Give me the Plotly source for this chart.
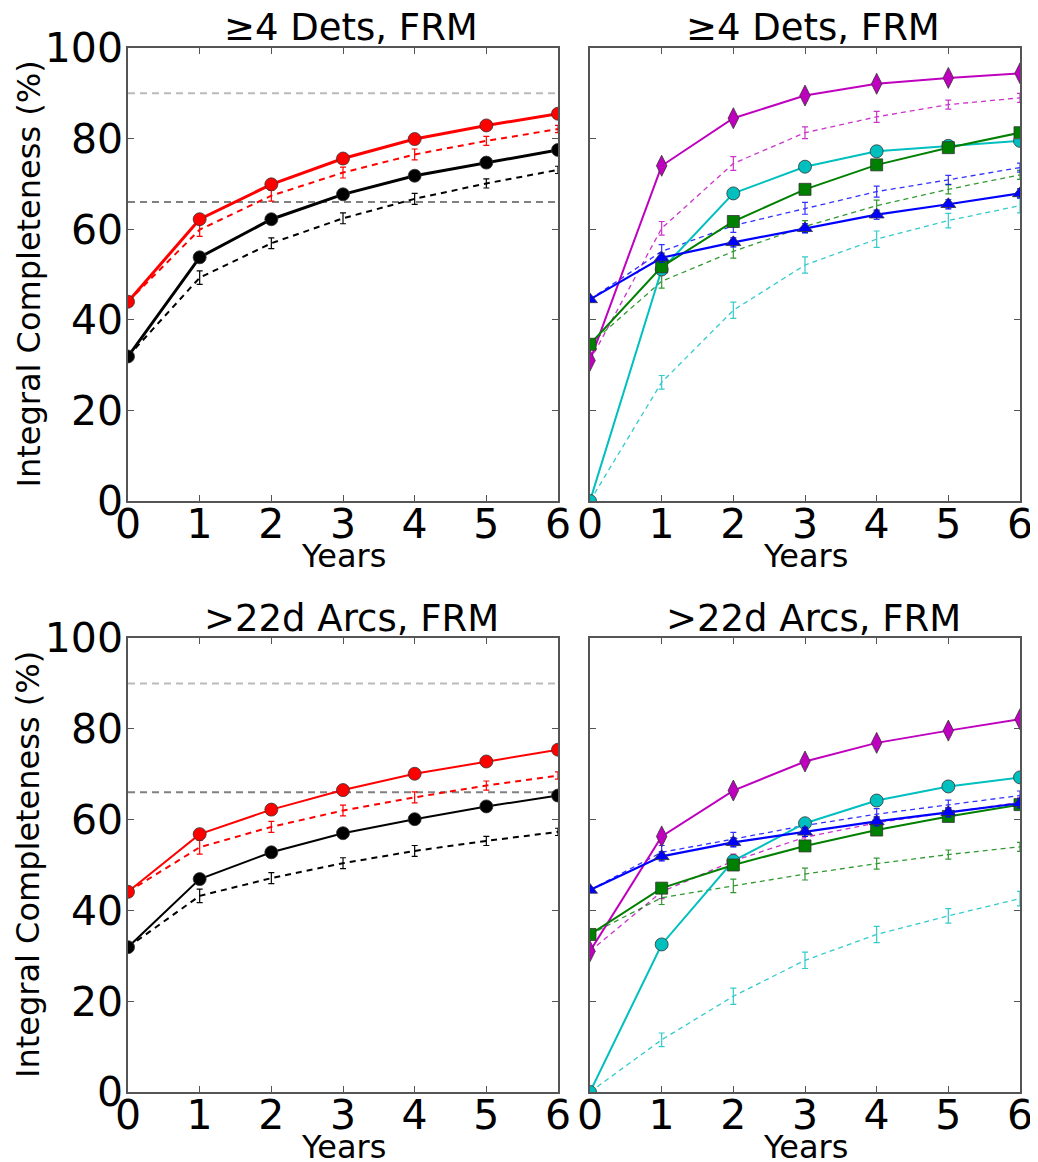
import plotly.graph_objects as go

years = [0, 1, 2, 3, 4, 5, 6]
x_ticks = [0, 1, 2, 3, 4, 5, 6]
y_ticks = [0, 20, 40, 60, 80, 100]
thresholds = [90, 66]
titles = ["\u22654 Dets, FRM", "\u22654 Dets, FRM", ">22d Arcs, FRM", ">22d Arcs, FRM"]

# Top-left (>=4 dets)
tl_red_solid = [44.0, 62.2, 69.9, 75.6, 79.9, 82.9, 85.5]
tl_red_dash = [44.0, 59.9, 67.4, 72.5, 76.5, 79.5, 82.1]
tl_black_solid = [31.9, 53.8, 62.2, 67.7, 71.8, 74.7, 77.5]
tl_black_dash = [31.9, 49.3, 56.9, 62.4, 66.7, 70.1, 73.1]

# Top-right
tr_mag_solid = [31.0, 74.0, 84.5, 89.5, 92.1, 93.4, 94.4]
tr_mag_dash = [31.0, 60.2, 74.5, 81.3, 84.8, 87.5, 89.0]
tr_cyan_solid = [0.0, 51.1, 67.9, 73.8, 77.2, 78.4, 79.5]
tr_cyan_dash = [0.0, 26.2, 42.1, 52.1, 57.8, 61.9, 65.2]
tr_green_solid = [34.6, 51.7, 61.7, 68.8, 74.2, 78.0, 81.3]
tr_green_dash = [34.6, 48.5, 55.1, 60.6, 65.2, 68.8, 72.0]
tr_blue_solid = [44.5, 53.7, 57.1, 60.2, 63.2, 65.5, 67.9]
tr_blue_dash = [44.5, 55.1, 60.8, 64.6, 68.3, 70.9, 73.6]

# Bottom-left (>22d arcs)
bl_red_solid = [44.1, 56.8, 62.2, 66.5, 70.1, 72.8, 75.4]
bl_red_dash = [44.1, 53.9, 58.4, 62.0, 64.9, 67.5, 69.7]
bl_black_solid = [31.9, 46.9, 52.8, 57.0, 60.1, 62.9, 65.3]
bl_black_dash = [31.9, 43.2, 47.1, 50.4, 53.1, 55.3, 57.3]

# Bottom-right
br_mag_solid = [31.0, 56.3, 66.4, 72.8, 76.9, 79.6, 82.1]
br_mag_dash = [31.0, 44.1, 50.9, 56.1, 59.3, 61.6, 63.8]
br_cyan_solid = [0.0, 32.5, 50.9, 59.2, 64.2, 67.3, 69.3]
br_cyan_dash = [0.0, 11.5, 21.1, 29.0, 34.7, 38.8, 42.6]
br_green_solid = [34.7, 44.9, 50.0, 54.2, 57.7, 60.7, 63.3]
br_green_dash = [34.7, 42.8, 45.4, 48.0, 50.3, 52.3, 54.0]
br_blue_solid = [44.5, 51.9, 55.0, 57.3, 59.6, 61.6, 63.6]
br_blue_dash = [44.5, 52.8, 55.7, 58.7, 61.2, 63.3, 65.3]

# error bar half-widths
err_solid = [0.5, 1.0, 1.0, 1.0, 1.0, 1.0, 1.0]
err_dash_left = [0.3, 1.5, 1.2, 1.2, 1.2, 1.0, 0.8]
err_dash_right = [0.3, 1.5, 1.5, 1.3, 1.2, 1.0, 1.0]
err_dash_cyan = [0.3, 1.5, 1.8, 1.8, 1.8, 1.6, 1.6]

W, H = 1038, 1162
FONT = "DejaVu Sans"
OFF = 8  # page body margin

# panel pixel boxes (left, right, top, bottom) in screen pixels
boxes = [(128, 558, 48, 501), (590, 1020, 48, 501),
         (128, 558, 638, 1092), (590, 1020, 638, 1092)]

RED = "#ff0000"
BLK = "#000000"
MAG = "#bf00bf"
CYA = "#00bfbf"
GRN = "#008000"
BLU = "#0000ff"

fig = go.Figure()


def axn(i):
    return "" if i == 0 else str(i + 1)


def px(xp):
    return (xp - OFF) / W


def py(yp):
    return 1 - (yp - OFF) / H


def solid(i, y, color, symbol, size, width, err):
    fig.add_trace(go.Scatter(
        x=years, y=y, mode="lines+markers",
        xaxis="x" + axn(i), yaxis="y" + axn(i),
        line=dict(color=color, width=width),
        marker=dict(color=color, symbol=symbol, size=size,
                    line=dict(color="#333333", width=0.8)),
        error_y=dict(type="data", array=err, color=color, thickness=1.2, width=3),
        showlegend=False))


def dashed(i, y, color, width, err, dash, opacity=1.0):
    fig.add_trace(go.Scatter(
        x=years, y=y, mode="lines",
        xaxis="x" + axn(i), yaxis="y" + axn(i),
        line=dict(color=color, width=width, dash=dash),
        opacity=opacity,
        error_y=dict(type="data", array=err, color=color, thickness=1.2, width=3),
        showlegend=False))


# threshold lines (left panels)
for i in (0, 2):
    for t, c in zip(thresholds, ["#bbbbbb", "#808080"]):
        fig.add_trace(go.Scatter(
            x=[years[0], years[-1]], y=[t, t], mode="lines",
            xaxis="x" + axn(i), yaxis="y" + axn(i),
            line=dict(color=c, width=2, dash="7px,5px"),
            hoverinfo="skip", showlegend=False))

# top-left
dashed(0, tl_black_dash, BLK, 2, err_dash_left, "6px,5px")
solid(0, tl_black_solid, BLK, "circle", 13, 3, err_solid)
dashed(0, tl_red_dash, RED, 2, err_dash_left, "6px,5px")
solid(0, tl_red_solid, RED, "circle", 13, 3, err_solid)

# bottom-left
dashed(2, bl_black_dash, BLK, 2, err_dash_left, "6px,5px")
solid(2, bl_black_solid, BLK, "circle", 13, 2, err_solid)
dashed(2, bl_red_dash, RED, 2, err_dash_left, "6px,5px")
solid(2, bl_red_solid, RED, "circle", 13, 2, err_solid)

# right panels
for i, (ms, md, cs, cd, gs, gd, bs, bd) in [
    (1, (tr_mag_solid, tr_mag_dash, tr_cyan_solid, tr_cyan_dash,
         tr_green_solid, tr_green_dash, tr_blue_solid, tr_blue_dash)),
    (3, (br_mag_solid, br_mag_dash, br_cyan_solid, br_cyan_dash,
         br_green_solid, br_green_dash, br_blue_solid, br_blue_dash)),
]:
    dashed(i, md, MAG, 1.3, err_dash_right, "5px,4px", 0.8)
    dashed(i, cd, CYA, 1.3, err_dash_cyan, "5px,4px", 0.8)
    dashed(i, gd, GRN, 1.3, err_dash_right, "5px,4px", 0.8)
    dashed(i, bd, BLU, 1.3, err_dash_right, "5px,4px", 0.8)
    solid(i, ms, MAG, "diamond-tall", 15, 2, err_solid)
    solid(i, cs, CYA, "circle", 13, 2, err_solid)
    solid(i, gs, GRN, "square", 12, 2, err_solid)
    solid(i, bs, BLU, "triangle-up", 13, 2.2, err_solid)

layout = dict(
    width=W, height=H,
    margin=dict(l=0, r=0, t=0, b=0, pad=0, autoexpand=False),
    paper_bgcolor="white", plot_bgcolor="white",
    font=dict(family=FONT, color="black"),
)
annotations = []
for i, (l, r, t, b) in enumerate(boxes):
    xd = [px(l), px(r)]
    yd = [py(b), py(t)]
    showy = i in (0, 2)
    layout["xaxis" + axn(i)] = dict(
        domain=xd, range=[0, 6], anchor="y" + axn(i), automargin=False,
        tickvals=x_ticks, ticks="inside", ticklen=6, tickcolor="#555555",
        showline=True, linecolor="#555555", linewidth=1.5, mirror="allticks",
        showgrid=False, zeroline=False, ticklabelstandoff=-14,
        tickfont=dict(family=FONT, size=41, color="black"))
    layout["yaxis" + axn(i)] = dict(
        domain=yd, range=[0, 100], anchor="x" + axn(i), automargin=False,
        tickvals=y_ticks, ticks="inside", ticklen=6, tickcolor="#555555",
        showline=True, linecolor="#555555", linewidth=1.5, mirror="allticks",
        showgrid=False, zeroline=False, showticklabels=showy,
        ticklabelstandoff=-5,
        tickfont=dict(family=FONT, size=41, color="black"))
    cx = (l + r) / 2
    annotations.append(dict(
        text=titles[i], x=px(cx + 8), y=py(t - 20),
        xref="paper", yref="paper", showarrow=False,
        xanchor="center", yanchor="middle",
        font=dict(family=FONT, size=37, color="black")))
    annotations.append(dict(
        text="Years", x=px(cx), y=py(b + 55),
        xref="paper", yref="paper", showarrow=False,
        xanchor="center", yanchor="middle",
        font=dict(family=FONT, size=32, color="black")))
    if showy:
        annotations.append(dict(
            text="Integral Completeness (%)", x=px(28), y=py((t + b) / 2),
            xref="paper", yref="paper", showarrow=False, textangle=-90,
            xanchor="center", yanchor="middle",
            font=dict(family=FONT, size=32, color="black")))
layout["annotations"] = annotations
fig.update_layout(**layout)

fig.write_html("out.html")
